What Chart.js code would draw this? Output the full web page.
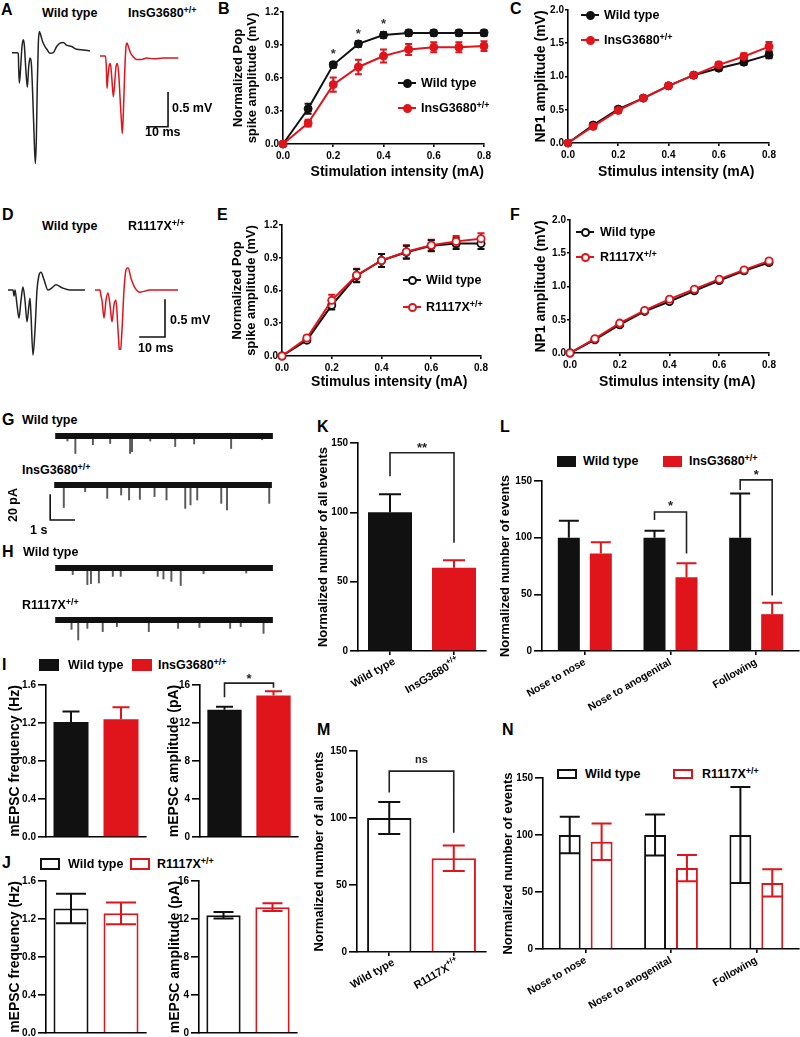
<!DOCTYPE html>
<html><head><meta charset="utf-8">
<script src="https://cdn.jsdelivr.net/npm/chart.js@4.4.1/dist/chart.umd.min.js"></script>
<style>
html,body{margin:0;padding:0;background:#fff;}
#fig{position:relative;width:800px;height:1037px;overflow:hidden;background:#fff;font-family:"Liberation Sans",Arial,Helvetica,sans-serif;font-weight:bold;color:#000;}
#fig canvas{position:absolute;}
.t{position:absolute;white-space:nowrap;line-height:1;}
.t sup{font-size:0.72em;position:relative;top:-0.45em;vertical-align:baseline;line-height:0;}
.sq,.ln,.dot{position:absolute;box-sizing:border-box;}
.dot{border-radius:50%;}
</style></head><body><div id="fig"></div>
<script>
// ================= DATA =================
// Field potential traces (time in ms, voltage in mV)
const aWT_t = [0,2.22,3.0,3.17,3.49,4.13,4.76,5.4,5.87,6.51,7.3,7.94,8.57,9.21,9.84,10.48,11.11,11.59,12.06,12.54,13.02,13.65,14.6,15.71,16.83,18.1,19.68,21.27,22.86,24.44,26.03,28.41,30.79,33.97,37.14];
const aWT_v = [0,0,-0.01,-0.21,-0.45,-0.21,0.09,0.19,0.11,-0.21,-0.51,-0.21,-0.08,-0.16,-0.6,-1.19,-1.63,-1.28,-0.45,0.14,0.31,0.26,0.16,0.09,0.04,-0.01,0,0.09,0.14,0.15,0.11,0.09,0.05,0.04,0.025];
const aIns_t = [0,2.54,3.02,3.33,3.81,4.44,4.92,5.56,6.35,6.98,7.62,8.25,8.89,9.52,10.16,10.63,11.11,11.75,12.38,12.86,13.49,14.6,15.87,17.46,19.84,22.22,25.4,30.16,37.3];
const aIns_v = [0,0,-0.16,-0.475,-0.3,-0.13,-0.11,-0.3,-0.6,-0.4,-0.16,-0.11,-0.25,-0.6,-0.94,-1.14,-0.84,-0.25,0.14,0.19,0.14,0.04,-0.01,-0.05,-0.05,-0.03,-0.04,-0.03,-0.03];
const dWT_t = [0,2,2.4,2.8,3.6,4.4,5.2,6,6.8,7.6,8.4,8.8,9.2,10,10.8,11.6,12.4,13.2,14.4,16,17.6,19.2,21.6,24.8,30.8];
const dWT_v = [0,0,-0.08,0,-0.2,-0.38,-0.14,0.04,-0.14,-0.43,-0.2,-0.11,-0.34,-0.88,-0.54,0,0.2,0.24,0.14,0,0.03,0.07,0.03,0,0];
const dR_t = [0,2,2.4,2.8,3.6,4.4,5.2,6,6.8,7.6,8.4,9.2,10,10.8,11.6,12.4,13.2,14.4,16,18,22,33.2];
const dR_v = [0,0,-0.08,-0.14,-0.38,-0.14,-0.04,-0.2,-0.43,-0.2,-0.14,-0.54,-0.89,-0.54,0,0.27,0.3,0.16,0.03,-0.03,0,0];

// Stimulation intensities (mA)
const stim = [0,0.1,0.2,0.3,0.4,0.5,0.6,0.7,0.8];
const bWT = [0,0.32,0.72,0.91,0.99,1.01,1.01,1.01,1.01];
const bWTerr = [0,0.045,0.025,0.025,0.025,0.025,0.025,0.025,0.025];
const bIns = [0,0.19,0.54,0.70,0.80,0.86,0.88,0.88,0.89];
const bInsErr = [0,0.03,0.065,0.065,0.06,0.05,0.045,0.045,0.045];
const bStarX = [0.2,0.3,0.4];
const bStarY = [0.85,1.03,1.12];
const cWT = [0,0.27,0.51,0.675,0.86,1.02,1.125,1.215,1.325];
const cWTerr = [0,0.03,0.03,0.03,0.03,0.03,0.035,0.04,0.05];
const cIns = [0,0.25,0.49,0.675,0.86,1.02,1.175,1.30,1.45];
const cInsErr = [0,0.03,0.03,0.03,0.035,0.035,0.04,0.05,0.07];
const eWT = [0,0.145,0.465,0.735,0.875,0.95,1.01,1.03,1.03];
const eWTerr = [0,0.02,0.04,0.06,0.06,0.06,0.05,0.05,0.05];
const eR = [0,0.165,0.51,0.74,0.875,0.955,1.015,1.05,1.075];
const eRerr = [0,0.02,0.05,0.06,0.06,0.06,0.05,0.05,0.05];
const fWT = [0,0.20,0.425,0.625,0.775,0.935,1.09,1.235,1.36];
const fWTerr = [0,0.02,0.02,0.02,0.02,0.02,0.02,0.025,0.03];
const fR = [0,0.215,0.45,0.64,0.81,0.96,1.11,1.25,1.385];
const fRerr = [0,0.02,0.02,0.02,0.02,0.02,0.02,0.025,0.03];

// mEPSC traces: event times (s) and amplitudes (pA)
const traceDur = 9.07;
const gWT_t = [0.51,0.84,1.57,2.29,3.12,3.20,3.96,5.00,5.79,7.33,8.62];
const gWT_a = [4,14,7,6,14,12.5,4,8.5,6.4,10,3];
const gIns_t = [0.40,1.29,2.21,2.79,3.12,3.57,4.18,4.68,5.46,5.68,5.96,6.96,7.20,8.96];
const gIns_a = [18,5.3,10.7,8,12,11.5,9.3,12,18.7,16,12,14.7,20,14.7];
const hWT_t = [0.73,1.34,1.49,1.82,2.40,2.73,4.27,4.51,4.84,5.23,6.18,7.96];
const hWT_a = [5.3,13.3,12.5,12,6.7,6.7,6.7,8.8,10.7,14,4.5,4];
const hR_t = [0.68,0.96,1.34,1.98,2.57,3.90,5.12,6.01,7.29,7.73,8.68];
const hR_a = [7.5,16,6.7,9.3,5.3,9.3,6.7,6,6.7,5.3,10.7];

// Tick values
const tickStim = [0,0.2,0.4,0.6,0.8];
const tickPop = [0,0.3,0.6,0.9,1.2];
const tickNP1 = [0,0.5,1.0,1.5,2.0];
const tickFreq = [0,0.4,0.8,1.2,1.6];
const tickAmp = [0,4,8,12,16];
const tickEvents = [0,50,100,150];

// Categories
const genoIns = ['Wild type','InsG3680+/+'];
const genoR = ['Wild type','R1117X+/+'];
const behav = ['Nose to nose','Nose to anogenital','Following'];

// Bar values (mean, SEM)
const iFreq = [1.21,1.24], iFreqErr = [0.11,0.125];
const iAmp = [13.4,14.9], iAmpErr = [0.3,0.45];
const jFreq = [1.31,1.26], jFreqErr = [0.155,0.115];
const jAmp = [12.4,13.25], jAmpErr = [0.35,0.4];
const kAll = [100,60], kAllErr = [13,5.5];
const lWT = [100,100,100], lWTerr = [15,6,39];
const lIns = [86,65,32.5], lInsErr = [10,12.5,10];
const mAll = [100,70], mAllErr = [12,9.5];
const nWT = [100,100,100], nWTerr = [16,18,42];
const nR = [94,71,58], nRerr = [16,11.5,12];

// Significance brackets (values in axis units)
const brI = [{a:[0,0],b:[0,1],top:16.2,endA:14.7,endB:15.7,text:'*',textY:16.95,size:13}];
const brK = [{a:[0,0],b:[0,1],top:143,endA:126,endB:78,text:'**',textY:148.5,size:13}];
const brL = [{a:[0,1],b:[1,1],top:122.6,endA:115.6,endB:86,text:'*',textY:130.6,size:13},
             {a:[0,2],b:[1,2],top:151,endA:142,endB:49,text:'*',textY:158,size:13}];
const brM = [{a:[0,0],b:[0,1],top:135,endA:119,endB:89,text:'ns',textY:143,size:11}];

// Scale bars (corner in data units, lengths)
const sbA = {x:32.4, y:-1.04, dx:-10, dy:0.5};
const sbD = {x:28, y:-0.635, dx:-10, dy:0.5};
const sbG = {x:-0.167, y:-28, dx:1, dy:20};

// ================= RENDER =================
const F = '"Liberation Sans", Arial, Helvetica, sans-serif';
const BLK = '#111111', RED = '#e0141b';
Chart.defaults.font.family = F;
Chart.defaults.font.weight = 'bold';
Chart.defaults.color = '#000';
const fig = document.getElementById('fig');

function txt(x, y, html, size, opt) {
  opt = opt || {};
  const d = document.createElement('div'); d.className = 't';
  d.innerHTML = html; d.style.left = x + 'px'; d.style.top = y + 'px'; d.style.fontSize = size + 'px';
  let tf = 'translate(' + (opt.align === 'center' ? '-50%' : opt.align === 'right' ? '-100%' : '0') + ',-50%)';
  if (opt.rot) tf += ' rotate(' + opt.rot + 'deg)';
  d.style.transform = tf; fig.appendChild(d); return d;
}
function lineLeg(x1, x2, y, color, filled, tx, html) {
  const l = document.createElement('div'); l.className = 'ln';
  l.style.cssText = `left:${x1}px;top:${y-1}px;width:${x2-x1}px;height:2px;background:${color}`; fig.appendChild(l);
  const r = 4.5, d = document.createElement('div'); d.className = 'dot';
  d.style.cssText = `left:${(x1+x2)/2-r}px;top:${y-r}px;width:${2*r}px;height:${2*r}px;border:2px solid ${color};background:${filled?color:'#fff'};border-radius:50%`;
  fig.appendChild(d);
  txt(tx, y, html, 12.5);
}
function sqLeg(x, y, w, h, color, filled, tx, html) {
  const s = document.createElement('div'); s.className = 'sq';
  s.style.cssText = `left:${x}px;top:${y-h/2}px;width:${w}px;height:${h}px;border:2px solid ${color};background:${filled?color:'transparent'}`;
  fig.appendChild(s);
  txt(tx, y, html, 12.5);
}
function mkCanvas(l, t, w, h) {
  const c = document.createElement('canvas');
  c.width = w; c.height = h;
  c.style.left = l + 'px'; c.style.top = t + 'px'; c.style.width = w + 'px'; c.style.height = h + 'px';
  fig.appendChild(c); return c;
}
function axisChart(rect, yw, xh, padT, padR, config) {
  const W = Math.round(rect.r - rect.l + yw + padR), H = Math.round(rect.b - rect.t + padT + xh);
  const c = mkCanvas(rect.l - yw, rect.t - padT, W, H);
  const o = config.options;
  o.responsive = false; o.animation = false; o.devicePixelRatio = 1; o.maintainAspectRatio = false;
  o.layout = {padding:{top:padT, right:padR, left:0, bottom:0}};
  o.plugins = Object.assign({legend:{display:false}, tooltip:{enabled:false}}, o.plugins || {});
  o.scales.x.afterFit = s => { s.height = xh; s.paddingLeft = 0; s.paddingRight = 0; };
  o.scales.y.afterFit = s => { s.width = yw; s.paddingTop = 0; s.paddingBottom = 0; };
  return new Chart(c, config);
}
function traceChart(l, t, w, h, ox, oy, sx, sy, datasets, plugins) {
  const c = mkCanvas(l, t, w, h);
  return new Chart(c, {type:'line', data:{datasets},
    options:{responsive:false, animation:false, devicePixelRatio:1, maintainAspectRatio:false, layout:{padding:0},
      plugins:{legend:{display:false}, tooltip:{enabled:false}},
      scales:{x:{type:'linear', display:false, min:(l-ox)/sx, max:(l+w-ox)/sx},
              y:{type:'linear', display:false, min:(oy-t-h)/sy, max:(oy-t)/sy}}},
    plugins: plugins || []});
}
function wave(ts, vs, color) {
  return {data: ts.map((x,i)=>({x, y:vs[i]})), borderColor:color, borderWidth:1.5, pointRadius:0,
          cubicInterpolationMode:'monotone', clip:false};
}
function band() {
  return {type:'line', data:[{x:0,y:0},{x:traceDur,y:0}], borderColor:'#111', borderWidth:6, pointRadius:0, clip:false};
}
function events(ts, as) {
  return {type:'bar', data: ts.map((t,i)=>({x:t, y:[0,-as[i]]})), backgroundColor:'#5a5a5a', barThickness:1.3, clip:false};
}
function scaleBarPlugin(sb) {
  return {id:'sbar', afterDatasetsDraw(chart) {
    const xs = chart.scales.x, ys = chart.scales.y, ctx = chart.ctx;
    const x0 = xs.getPixelForValue(sb.x), y0 = ys.getPixelForValue(sb.y);
    const x1 = xs.getPixelForValue(sb.x + sb.dx), y1 = ys.getPixelForValue(sb.y + sb.dy);
    ctx.save(); ctx.strokeStyle = '#111'; ctx.lineWidth = 1.6; ctx.lineCap = 'square';
    ctx.beginPath(); ctx.moveTo(x1, y0); ctx.lineTo(x0, y0); ctx.lineTo(x0, y1); ctx.stroke(); ctx.restore();
  }};
}
function linX(ticksArr, title, align) {
  return {type:'linear', min:ticksArr[0], max:ticksArr[ticksArr.length-1],
    border:{display:true, color:'#000', width:1.6},
    grid:{display:true, drawOnChartArea:false, drawTicks:true, tickLength:3, color:'#000', lineWidth:1.6},
    ticks:{color:'#000', font:{size:10, weight:'bold'}, padding:3, maxRotation:0, callback:v => (+v).toFixed(1)},
    afterBuildTicks: s => { s.ticks = ticksArr.map(v => ({value:v})); },
    title:{display:true, text:title, align:align || 'center', color:'#000', font:{size:14, weight:'bold', lineHeight:1.12}, padding:0}};
}
function linY(ticksArr, fmt, title, tsize, tickLen) {
  return {type:'linear', min:ticksArr[0], max:ticksArr[ticksArr.length-1],
    border:{display:true, color:'#000', width:1.6},
    grid:{display:true, drawOnChartArea:false, drawTicks:true, tickLength:tickLen, color:'#000', lineWidth:1.6},
    ticks:{color:'#000', font:{size:10, weight:'bold'}, padding: tickLen > 4 ? 2 : 1, callback:v => fmt(v)},
    afterBuildTicks: s => { s.ticks = ticksArr.map(v => ({value:v})); },
    title:{display:true, text:title, color:'#000', font:{size:tsize, weight:'bold', lineHeight:1.12}, padding:0}};
}
function catX(o) {
  return {type:'category', offset:true,
    border:{display:true, color:'#000', width:1.6},
    grid:{display:!!o.tickMarks, drawOnChartArea:false, drawTicks:true, tickLength:o.tickLen || 4, color:'#000', lineWidth:1.6, offset:false},
    ticks:{display:!!o.labels, color:'#000', font:{size:10.5, weight:'bold'}, minRotation:30, maxRotation:30, autoSkip:false, padding:1}};
}
function lineDS(xs, ys, errs, color, filled) {
  return {data: xs.map((x,i)=>({x, y:ys[i]})), err:errs, borderColor:color, backgroundColor:color, borderWidth:2,
    pointRadius: filled ? 4 : 3.6, pointBackgroundColor: filled ? color : '#fff', pointBorderColor:color,
    pointBorderWidth: filled ? 1 : 1.8, tension:0, clip:false};
}
function barDS(vals, errs, colors, filled, upOnly, bp, cp, cap) {
  return {data:vals, err:errs, errColor:colors, upOnly, cap,
    backgroundColor: filled ? colors : '#fff', borderColor:colors, borderWidth: filled ? 0 : 2,
    barPercentage:bp, categoryPercentage:cp};
}
const errLinePlugin = {id:'errLine', beforeDatasetsDraw(chart) {
  const ctx = chart.ctx, ys = chart.scales.y;
  chart.data.datasets.forEach((ds, i) => {
    if (!ds.err) return;
    const meta = chart.getDatasetMeta(i);
    ctx.save(); ctx.strokeStyle = ds.borderColor; ctx.lineWidth = 2;
    meta.data.forEach((pt, j) => {
      const e = ds.err[j]; if (!e) return;
      const v = ds.data[j].y, x = pt.x;
      const y1 = ys.getPixelForValue(v + e), y2 = ys.getPixelForValue(v - e);
      ctx.beginPath(); ctx.moveTo(x, y1); ctx.lineTo(x, y2);
      ctx.moveTo(x - 3.5, y1); ctx.lineTo(x + 3.5, y1);
      ctx.moveTo(x - 3.5, y2); ctx.lineTo(x + 3.5, y2); ctx.stroke();
    });
    ctx.restore();
  });
}};
const barErrPlugin = {id:'barErr', afterDatasetsDraw(chart) {
  const ctx = chart.ctx, ys = chart.scales.y;
  chart.data.datasets.forEach((ds, i) => {
    if (!ds.err) return;
    const meta = chart.getDatasetMeta(i);
    meta.data.forEach((bar, j) => {
      const v = ds.data[j], e = ds.err[j];
      const col = Array.isArray(ds.errColor) ? ds.errColor[j] : ds.errColor;
      const x = bar.x, w = ds.cap;
      const yt = ys.getPixelForValue(v + e), yb = ds.upOnly ? ys.getPixelForValue(v) : ys.getPixelForValue(v - e);
      ctx.save(); ctx.strokeStyle = col; ctx.lineWidth = 2; ctx.beginPath();
      ctx.moveTo(x, yb); ctx.lineTo(x, yt); ctx.moveTo(x - w/2, yt); ctx.lineTo(x + w/2, yt);
      if (!ds.upOnly) { ctx.moveTo(x - w/2, yb); ctx.lineTo(x + w/2, yb); }
      ctx.stroke(); ctx.restore();
    });
  });
}};
function bracketPlugin(items) {
  return {id:'brackets', afterDatasetsDraw(chart) {
    const ctx = chart.ctx, ys = chart.scales.y;
    items.forEach(it => {
      const xa = chart.getDatasetMeta(it.a[0]).data[it.a[1]].x;
      const xb = chart.getDatasetMeta(it.b[0]).data[it.b[1]].x;
      const yt = ys.getPixelForValue(it.top), ya = ys.getPixelForValue(it.endA), yb = ys.getPixelForValue(it.endB);
      ctx.save(); ctx.strokeStyle = '#222'; ctx.lineWidth = 1.6;
      ctx.beginPath(); ctx.moveTo(xa, ya); ctx.lineTo(xa, yt); ctx.lineTo(xb, yt); ctx.lineTo(xb, yb); ctx.stroke();
      ctx.fillStyle = '#222'; ctx.textAlign = 'center'; ctx.textBaseline = 'alphabetic';
      ctx.font = `bold ${it.size}px ${F}`;
      const off = it.text === 'ns' ? 0.27 : 0.57;
      ctx.fillText(it.text, (xa + xb)/2, ys.getPixelForValue(it.textY) + it.size * off);
      ctx.restore();
    });
  }};
}
function starPlugin(sx, sy) {
  return {id:'stars', afterDatasetsDraw(chart) {
    const ctx = chart.ctx, xs = chart.scales.x, ys = chart.scales.y;
    ctx.save(); ctx.fillStyle = '#333'; ctx.font = `bold 13px ${F}`; ctx.textAlign = 'center'; ctx.textBaseline = 'alphabetic';
    sx.forEach((x, i) => ctx.fillText('*', xs.getPixelForValue(x), ys.getPixelForValue(sy[i]) + 13*0.57));
    ctx.restore();
  }};
}
function richXPlugin(labels, size) {
  return {id:'richX', afterDraw(chart) {
    const xs = chart.scales.x, ctx = chart.ctx;
    labels.forEach((lab, i) => {
      const m = lab.match(/^(.*?)(\+\/\+)?$/); const main = m[1], sup = m[2] || '';
      const x = xs.getPixelForValue(i) + 4, y = xs.top + 9;
      ctx.save(); ctx.translate(x, y); ctx.rotate(-Math.PI/6);
      ctx.fillStyle = '#000'; ctx.textBaseline = 'alphabetic'; ctx.textAlign = 'left';
      ctx.font = `bold ${size}px ${F}`; const w1 = ctx.measureText(main).width;
      ctx.font = `bold ${size*0.72}px ${F}`; const w2 = sup ? ctx.measureText(sup).width : 0;
      const base = size * 0.35;
      ctx.font = `bold ${size}px ${F}`; ctx.fillText(main, -w1 - w2, base);
      if (sup) { ctx.font = `bold ${size*0.72}px ${F}`; ctx.fillText(sup, -w2, base - size*0.45); }
      ctx.restore();
    });
  }};
}

// ---------- Panel letters ----------
[['A',1,10],['B',218,9],['C',510,9],['D',2,215],['E',217,215],['F',510,215],['G',2,420],['H',2,552],
 ['I',2,665],['J',2,863],['K',317,427],['L',500,427],['M',317,730],['N',502,730]].forEach(p => txt(p[1], p[2], p[0], 16));

// ---------- A ----------
txt(42, 13, 'Wild type', 12.5); txt(128, 13, 'InsG3680<sup>+/+</sup>', 12.5);
traceChart(8, 22, 90, 150, 12, 52.67, 2.1, 68, [wave(aWT_t, aWT_v, '#222')]);
traceChart(97, 30, 100, 110, 100, 56, 2.1, 68, [wave(aIns_t, aIns_v, RED)], [scaleBarPlugin(sbA)]);
txt(172, 108, '0.5 mV', 12.5); txt(145, 132, '10 ms', 12.5);

// ---------- D ----------
txt(42, 226, 'Wild type', 12.5); txt(128, 226, 'R1117X<sup>+/+</sup>', 12.5);
traceChart(5, 250, 85, 115, 8, 290, 2.5, 74, [wave(dWT_t, dWT_v, '#222')]);
traceChart(92, 250, 90, 100, 95, 290, 2.5, 74, [wave(dR_t, dR_v, RED)], [scaleBarPlugin(sbD)]);
txt(170, 320, '0.5 mV', 12.5); txt(138, 348, '10 ms', 12.5);

// ---------- B ----------
axisChart({l:283,t:12,r:484,b:144}, 52, 36, 10, 14, {type:'line',
  data:{datasets:[lineDS(stim, bIns, bInsErr, RED, true), lineDS(stim, bWT, bWTerr, BLK, true)]},
  options:{scales:{x:linX(tickStim, 'Stimulation intensity (mA)', 'end'),
    y:linY(tickPop, v => v.toFixed(1), ['Normalized Pop','spike amplitude (mV)'], 13, 3)}},
  plugins:[errLinePlugin, starPlugin(bStarX, bStarY)]});
lineLeg(398, 416, 83, BLK, true, 421, 'Wild type');
lineLeg(398, 416, 108, RED, true, 421, 'InsG3680<sup>+/+</sup>');

// ---------- C ----------
axisChart({l:568,t:10,r:769,b:143}, 35, 37, 8, 14, {type:'line',
  data:{datasets:[lineDS(stim, cIns, cInsErr, RED, true), lineDS(stim, cWT, cWTerr, BLK, true)]},
  options:{scales:{x:linX(tickStim, '    Stimulus intensity (mA)'),
    y:linY(tickNP1, v => v.toFixed(1), 'NP1 amplitude (mV)', 14, 3)}},
  plugins:[errLinePlugin]});
lineLeg(581, 599, 15, BLK, true, 604, 'Wild type');
lineLeg(581, 599, 40, RED, true, 604, 'InsG3680<sup>+/+</sup>');

// ---------- E ----------
axisChart({l:282,t:225,r:481,b:356}, 52, 34, 8, 14, {type:'line',
  data:{datasets:[lineDS(stim, eR, eRerr, RED, false), lineDS(stim, eWT, eWTerr, BLK, false)]},
  options:{scales:{x:linX(tickStim, '    Stimulus intensity (mA)'),
    y:linY(tickPop, v => v.toFixed(1), ['Normalized Pop','spike amplitude (mV)'], 13, 3)}},
  plugins:[errLinePlugin]});
lineLeg(403, 421, 280, BLK, false, 426, 'Wild type');
lineLeg(403, 421, 307, RED, false, 426, 'R1117X<sup>+/+</sup>');

// ---------- F ----------
axisChart({l:570,t:220,r:769,b:353}, 37, 37, 8, 14, {type:'line',
  data:{datasets:[lineDS(stim, fR, fRerr, RED, false), lineDS(stim, fWT, fWTerr, BLK, false)]},
  options:{scales:{x:linX(tickStim, '    Stimulus intensity (mA)'),
    y:linY(tickNP1, v => v.toFixed(1), 'NP1 amplitude (mV)', 14, 3)}},
  plugins:[errLinePlugin]});
lineLeg(576, 594, 232, BLK, false, 600, 'Wild type');
lineLeg(576, 594, 257, RED, false, 600, 'R1117X<sup>+/+</sup>');

// ---------- G / H ----------
txt(22, 420, 'Wild type', 12.5);
traceChart(25, 428, 278, 30, 28, 436, 30, 1.25, [band(), events(gWT_t, gWT_a)]);
txt(22, 470, 'InsG3680<sup>+/+</sup>', 12.5);
traceChart(15, 478, 288, 48, 28, 485, 30, 1.25, [band(), events(gIns_t, gIns_a)], [scaleBarPlugin(sbG)]);
txt(13, 505, '20 pA', 12.5, {align:'center', rot:-90});
txt(30, 530, '1 s', 12.5);
txt(23, 552, 'Wild type', 12.5);
traceChart(25, 560, 278, 30, 28, 568, 30, 1.25, [band(), events(hWT_t, hWT_a)]);
txt(22, 605, 'R1117X<sup>+/+</sup>', 12.5);
traceChart(25, 612, 278, 36, 28, 620, 30, 1.25, [band(), events(hR_t, hR_a)]);

// ---------- I ----------
sqLeg(39, 665, 20, 12, BLK, true, 68, 'Wild type');
sqLeg(132, 665, 20, 12, RED, true, 158, 'InsG3680<sup>+/+</sup>');
axisChart({l:46,t:685,r:146,b:837}, 39, 4, 8, 4, {type:'bar',
  data:{labels:genoIns, datasets:[barDS(iFreq, iFreqErr, [BLK,RED], true, true, 0.7, 1, 17)]},
  options:{scales:{x:catX({}), y:linY(tickFreq, v => v.toFixed(1), 'mEPSC frequency (Hz)', 14, 8)}},
  plugins:[barErrPlugin]});
axisChart({l:200,t:685,r:298,b:837}, 34, 4, 18, 4, {type:'bar',
  data:{labels:genoIns, datasets:[barDS(iAmp, iAmpErr, [BLK,RED], true, true, 0.7, 1, 17)]},
  options:{scales:{x:catX({}), y:linY(tickAmp, v => String(v), 'mEPSC amplitude (pA)', 14, 8)}},
  plugins:[barErrPlugin, bracketPlugin(brI)]});

// ---------- J ----------
sqLeg(40, 864, 20, 12, BLK, false, 68, 'Wild type');
sqLeg(130, 864, 20, 12, RED, false, 157, 'R1117X<sup>+/+</sup>');
axisChart({l:46,t:881,r:146,b:1033}, 39, 4, 8, 4, {type:'bar',
  data:{labels:genoR, datasets:[barDS(jFreq, jFreqErr, [BLK,RED], false, false, 0.7, 1, 30)]},
  options:{scales:{x:catX({}), y:linY(tickFreq, v => v.toFixed(1), 'mEPSC frequency (Hz)', 14, 8)}},
  plugins:[barErrPlugin]});
axisChart({l:199,t:881,r:297,b:1033}, 32, 4, 8, 4, {type:'bar',
  data:{labels:genoR, datasets:[barDS(jAmp, jAmpErr, [BLK,RED], false, false, 0.7, 1, 20)]},
  options:{scales:{x:catX({}), y:linY(tickAmp, v => String(v), 'mEPSC amplitude (pA)', 14, 8)}},
  plugins:[barErrPlugin]});

// ---------- K ----------
axisChart({l:358,t:443,r:486,b:651}, 42, 72, 9, 4, {type:'bar',
  data:{labels:genoIns, datasets:[barDS(kAll, kAllErr, [BLK,RED], true, true, 0.6875, 1, 22)]},
  options:{scales:{x:catX({tickMarks:true, tickLen:4}), y:linY(tickEvents, v => String(v), 'Normalized number of all events', 13, 8)}},
  plugins:[barErrPlugin, bracketPlugin(brK), richXPlugin(genoIns, 11)]});

// ---------- L ----------
sqLeg(557, 461, 19, 11, BLK, true, 583, 'Wild type');
sqLeg(663, 461, 19, 11, RED, true, 689, 'InsG3680<sup>+/+</sup>');
axisChart({l:542,t:481,r:799,b:651}, 44, 75, 20, 1, {type:'bar',
  data:{labels:behav, datasets:[barDS(lWT, lWTerr, BLK, true, true, 0.6875, 0.747, 20),
                                barDS(lIns, lInsErr, RED, true, true, 0.6875, 0.747, 20)]},
  options:{scales:{x:catX({labels:true, tickMarks:true, tickLen:4}), y:linY(tickEvents, v => String(v), 'Normalized number of events', 13, 8)}},
  plugins:[barErrPlugin, bracketPlugin(brL)]});

// ---------- M ----------
axisChart({l:357,t:751,r:486,b:952}, 45, 82, 8, 4, {type:'bar',
  data:{labels:genoR, datasets:[barDS(mAll, mAllErr, [BLK,RED], false, false, 0.6875, 1, 22)]},
  options:{scales:{x:catX({tickMarks:true, tickLen:4}), y:linY(tickEvents, v => String(v), 'Normalized number of all events', 13, 8)}},
  plugins:[barErrPlugin, bracketPlugin(brM), richXPlugin(genoR, 11)]});

// ---------- N ----------
sqLeg(557, 774, 20, 10, BLK, false, 585, 'Wild type');
sqLeg(673, 774, 20, 10, RED, false, 702, 'R1117X<sup>+/+</sup>');
axisChart({l:543,t:778,r:799,b:949}, 42, 82, 8, 1, {type:'bar',
  data:{labels:behav, datasets:[barDS(nWT, nWTerr, BLK, false, false, 0.6875, 0.747, 20),
                                barDS(nR, nRerr, RED, false, false, 0.6875, 0.747, 20)]},
  options:{scales:{x:catX({labels:true, tickMarks:true, tickLen:4}), y:linY(tickEvents, v => String(v), 'Normalized number of events', 13, 8)}},
  plugins:[barErrPlugin]});
</script></body></html>
